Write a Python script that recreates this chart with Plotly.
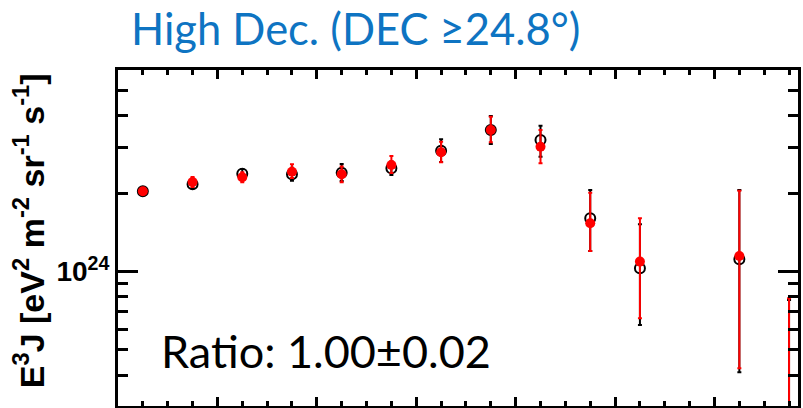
import numpy as np
import plotly.graph_objects as go

# log10(E/eV) bin centres
log_e = [18.85, 18.95, 19.05, 19.15, 19.25, 19.35, 19.45, 19.55, 19.65, 19.75, 19.85, 20.05, 20.15]

# E^3 J in units of 1e24 eV^2 m^-2 sr^-1 s^-1
black_val = [2.04, 2.17, 2.38, 2.37, 2.40, 2.50, 2.92, 3.51, 3.21, 1.605, 1.03, 1.116, 0.24]
black_hi = [2.093, 2.246, 2.483, 2.509, 2.596, 2.652, 3.231, 3.971, 3.644, 2.062, 1.521, 2.062, 0.778]
black_lo = [1.985, 2.093, 2.273, 2.236, 2.232, 2.355, 2.642, 3.098, 2.770, 1.201, 0.624, 0.410, 0.05]

red_val = [2.04, 2.213, 2.307, 2.424, 2.369, 2.573, 2.879, 3.508, 3.026, 1.535, 1.093, 1.149, 0.25]
red_hi = [2.093, 2.313, 2.412, 2.589, 2.539, 2.786, 3.162, 3.947, 3.508, 2.013, 1.605, 2.049, 0.790]
red_lo = [1.985, 2.117, 2.207, 2.293, 2.207, 2.396, 2.635, 3.145, 2.612, 1.201, 0.662, 0.425, 0.05]

UNIT = 1e24
y_major_vals = [1e24]
y_major_text = ["10<sup>24</sup>"]
y_minor_vals = [3e23, 4e23, 5e23, 6e23, 7e23, 8e23, 9e23, 2e24, 3e24, 4e24, 5e24, 6e24]

title_text = "High Dec. (DEC \u226524.8\u00b0)"
ratio_text = "Ratio: 1.00\u00b10.02"
ytitle_text = "E<sup>3</sup>J [eV<sup>2</sup> m<sup>-2</sup> sr<sup>-1</sup> s<sup>-1</sup>]"


def prep(val, hi, lo):
    v = np.array(val) * UNIT
    return v, np.array(hi) * UNIT - v, v - np.array(lo) * UNIT


bv, bp, bm = prep(black_val, black_hi, black_lo)
rv, rp, rm = prep(red_val, red_hi, red_lo)

fig = go.Figure()
fig.add_trace(go.Scatter(
    x=log_e, y=bv, mode="markers",
    marker=dict(symbol="circle-open", size=10, color="black", line=dict(width=2, color="black")),
    error_y=dict(type="data", symmetric=False, array=bp, arrayminus=bm,
                 color="black", thickness=2, width=2),
    showlegend=False,
))
fig.add_trace(go.Scatter(
    x=log_e, y=rv, mode="markers",
    marker=dict(symbol="circle", size=10, color="red"),
    error_y=dict(type="data", symmetric=False, array=rp, arrayminus=rm,
                 color="red", thickness=2, width=2),
    showlegend=False,
))

fig.update_layout(
    width=803, height=408,
    margin=dict(l=118, r=3, t=70, b=2),
    paper_bgcolor="white", plot_bgcolor="white",
    xaxis=dict(
        range=[18.8, 20.168], showgrid=False, zeroline=False,
        showline=True, linewidth=3, linecolor="black", mirror="allticks",
        ticks="inside", tick0=19.0, dtick=0.2, ticklen=9, tickwidth=3, tickcolor="black",
        showticklabels=False,
        minor=dict(ticks="inside", dtick=0.05, ticklen=5, tickwidth=3, tickcolor="black", showgrid=False),
    ),
    yaxis=dict(
        type="log", range=[23.483, 24.776], showgrid=False, zeroline=False,
        showline=True, linewidth=3, linecolor="black", mirror="allticks",
        ticks="inside", tickmode="array", tickvals=y_major_vals, ticktext=y_major_text,
        ticklen=20, tickwidth=3, tickcolor="black",
        tickfont=dict(family="Liberation Sans, Arial", size=28, color="black", weight="bold"),
        minor=dict(ticks="inside", tickmode="array", tickvals=y_minor_vals,
                   ticklen=10, tickwidth=3, tickcolor="black", showgrid=False),
    ),
    annotations=[
        dict(text=title_text, xref="paper", yref="paper", x=0.349, y=1.0 + 70 / 336,
             xanchor="center", yanchor="top", showarrow=False,
             font=dict(family="Lato", size=43.5, color="#0e74c2")),
        dict(text=ratio_text, xref="paper", yref="paper", x=0.3057, y=(406 - 350.5) / 336,
             xanchor="center", yanchor="middle", showarrow=False,
             font=dict(family="Lato", size=45, color="black")),
        dict(text=ytitle_text, xref="paper", yref="paper", x=(28 - 118) / 682, y=(406 - 231) / 336,
             xanchor="center", yanchor="middle", showarrow=False, textangle=-90,
             font=dict(family="Liberation Sans, Arial", size=34, color="black", weight="bold")),
    ],
)

fig.write_html("out.html")
